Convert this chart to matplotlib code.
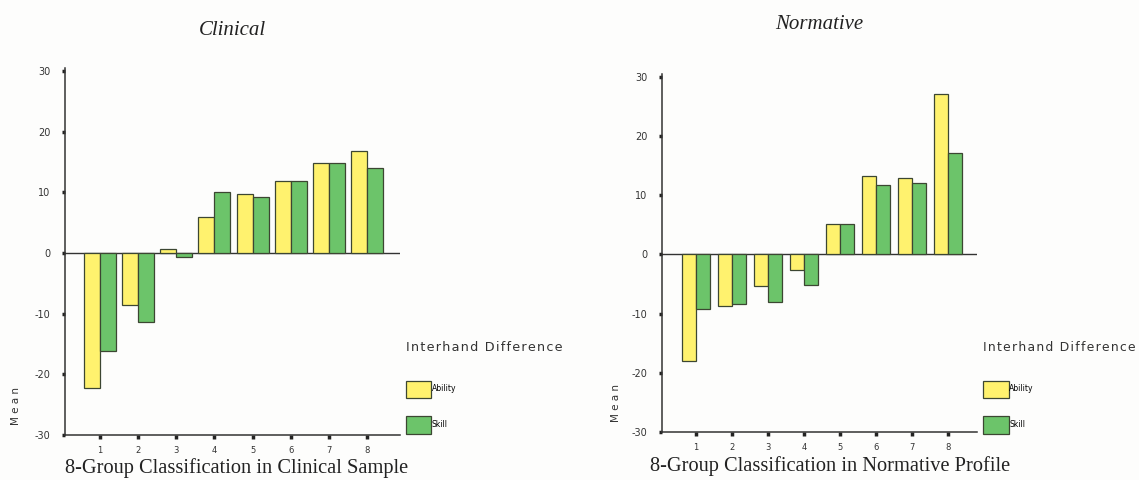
import matplotlib
matplotlib.use("Agg")
import matplotlib.pyplot as plt
import numpy as np

plt.rcParams["axes.unicode_minus"] = False

# 8-group classification, interhand difference means
groups = [1, 2, 3, 4, 5, 6, 7, 8]
clinical_ability = [-22.2, -8.5, 0.6, 6.0, 9.8, 11.9, 14.9, 16.8]
clinical_skill = [-16.2, -11.3, -0.7, 10.0, 9.3, 11.9, 14.9, 14.1]
normative_ability = [-18.0, -8.7, -5.3, -2.6, 5.2, 13.3, 12.9, 27.1]
normative_skill = [-9.2, -8.3, -8.0, -5.2, 5.2, 11.7, 12.0, 17.1]
yticks = [-30, -20, -10, 0, 10, 20, 30]
series_names = ["Ability", "Skill"]
legend_title = "Interhand Difference"

yellow = "#FFF26E"
green = "#6CC46A"
edge = "#3C4632"
axcol = "#333333"
serif = ["Liberation Serif", "DejaVu Serif"]

fig = plt.figure(figsize=(11.39, 4.8), dpi=100)
fig.patch.set_facecolor("#FDFDFC")

panels = [
    # rect, ability, skill, title, xlabel, xlim, bar width, xlabel pos,
    # legend x, legend title size, title pad
    ([0.0571, 0.0937, 0.2941, 0.7646], clinical_ability, clinical_skill,
     "Clinical", "8-Group Classification in Clinical Sample",
     (0.08, 8.87), 0.42, (0.0, -0.062), 0.353, 9.2, 24),
    ([0.5812, 0.1000, 0.2766, 0.7460], normative_ability, normative_skill,
     "Normative", "8-Group Classification in Normative Profile",
     (0.06, 8.8), 0.39, (-0.038, -0.066), 0.860, 8.9, 32),
]

# letter-spaced legend title, as in the scanned original
spaced_title = "\u200a".join(legend_title)

x = np.array(groups)
for (rect, abil, skill, title, xlabel, xlim, w, xlpos, leg_x, lt_size,
     tpad) in panels:
    ax = fig.add_axes(rect)
    ax.set_facecolor("none")
    b1 = ax.bar(x - w / 2, abil, w, color=yellow, edgecolor=edge, linewidth=0.9,
                label=series_names[0])
    b2 = ax.bar(x + w / 2, skill, w, color=green, edgecolor=edge, linewidth=0.9,
                label=series_names[1])
    ax.axhline(0, color=axcol, lw=1.0, zorder=0)
    ax.set_ylim(-30, 30.5)
    ax.set_xlim(*xlim)
    ax.set_yticks(yticks)
    ax.set_xticks(groups)
    for s in ["top", "right"]:
        ax.spines[s].set_visible(False)
    for s in ["left", "bottom"]:
        ax.spines[s].set_color(axcol)
        ax.spines[s].set_linewidth(1.1)
    ax.tick_params(axis="y", direction="out", length=2.5, width=2.5,
                   color="#222222", labelsize=7, pad=8, labelcolor="#333333")
    ax.tick_params(axis="x", direction="out", length=3, width=2.5,
                   color="#222222", labelsize=6, pad=5, labelcolor="#333333")

    ax.set_title(title, fontsize=15, style="italic", family=serif,
                 color="#222222", pad=tpad)
    ax.set_xlabel(xlabel, fontsize=14.7, family=serif, color="#222222",
                  loc="left")
    ax.xaxis.set_label_coords(*xlpos)
    ax.xaxis.label.set_verticalalignment("top")
    ax.text(-0.147, 0.08, "M e a n", rotation=90,
            transform=ax.transAxes, fontsize=7.5, color="#333333",
            ha="center", va="center")

    leg = fig.legend(handles=[b1, b2], loc="upper left",
                     bbox_to_anchor=(leg_x, 0.297), frameon=False,
                     title=spaced_title,
                     title_fontsize=lt_size, fontsize=5.5, handlelength=3.3,
                     handleheight=3.1, labelspacing=2.4, handletextpad=0.1,
                     alignment="left", borderpad=0)
    leg.get_title().set_color("#333333")
    leg._legend_box.sep = 19
    for h in leg.legend_handles:
        h.set_edgecolor(edge)

fig.savefig("out.png", dpi=100, facecolor=fig.get_facecolor())
